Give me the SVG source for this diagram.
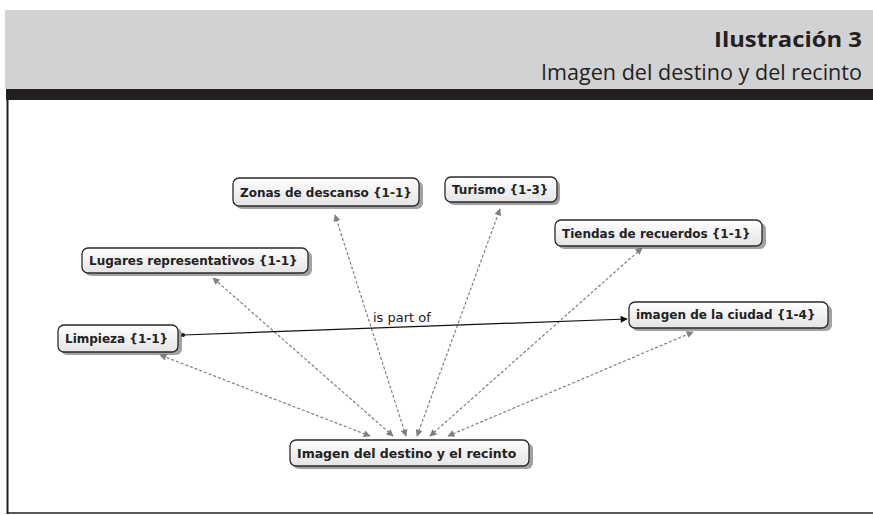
<svg xmlns="http://www.w3.org/2000/svg" width="873" height="515" viewBox="0 0 873 515">
<defs>
<style>
.box{fill:url(#g);stroke:#2a2a2a;stroke-width:1.3}
.sh{fill:#555;opacity:0.55}
.lbl{font-family:"DejaVu Sans",Verdana,sans-serif;font-size:12px;font-weight:bold;fill:#222}
.dash{stroke:#7f7f7f;stroke-width:1.2;stroke-dasharray:3 2;fill:none;marker-start:url(#ah);marker-end:url(#ah)}
.hd{font-family:"Open Sans","Liberation Sans",sans-serif;fill:#231f20}
</style>
<linearGradient id="g" x1="0" y1="0" x2="0" y2="1">
<stop offset="0" stop-color="#ffffff"/>
<stop offset="1" stop-color="#e4e4e4"/>
</linearGradient>
<marker id="ah" viewBox="0 0 10 10" refX="9" refY="5" markerWidth="9" markerHeight="7" orient="auto-start-reverse" markerUnits="userSpaceOnUse">
<path d="M0,0 L10,5 L0,10 z" fill="#7f7f7f"/>
</marker>
<marker id="ab" viewBox="0 0 10 10" refX="9" refY="5" markerWidth="10" markerHeight="7" orient="auto" markerUnits="userSpaceOnUse">
<path d="M0,0 L10,5 L0,10 z" fill="#111"/>
</marker>
<marker id="dot" viewBox="0 0 6 6" refX="3" refY="3" markerWidth="4" markerHeight="4" markerUnits="userSpaceOnUse">
<circle cx="3" cy="3" r="3" fill="#111"/>
</marker>
</defs>
<rect x="0" y="0" width="873" height="515" fill="#fff"/>
<g id="header">
<rect x="5" y="10" width="868" height="79" fill="#d1d2d4"/>
<rect x="6" y="89" width="867" height="11" fill="#231f20"/>
<line x1="7.5" y1="100" x2="7.5" y2="514" stroke="#231f20" stroke-width="2"/>
<line x1="7" y1="513" x2="873" y2="513" stroke="#231f20" stroke-width="1.5"/>
<text class="hd" x="862" y="47" text-anchor="end" font-size="21" font-weight="bold" textLength="148" lengthAdjust="spacingAndGlyphs">Ilustración 3</text>
<text class="hd" x="862" y="80" text-anchor="end" font-size="22" textLength="321" lengthAdjust="spacingAndGlyphs">Imagen del destino y del recinto</text>
</g>
<g id="connectors">
<line class="dash" x1="370" y1="436" x2="160" y2="355"/>
<line class="dash" x1="393" y1="436" x2="213" y2="278"/>
<line class="dash" x1="406" y1="436" x2="335" y2="215"/>
<line class="dash" x1="417" y1="436" x2="500" y2="209"/>
<line class="dash" x1="430" y1="436" x2="642" y2="248"/>
<line class="dash" x1="448" y1="436" x2="693" y2="332"/>
<line x1="183" y1="335" x2="627" y2="319" stroke="#111" stroke-width="1.2" marker-start="url(#dot)" marker-end="url(#ab)"/>
<text x="373" y="322" font-family="DejaVu Sans,Verdana,sans-serif" font-size="13" fill="#1a1a1a">is part of</text>
</g>
<g id="zonas">
<rect class="sh" x="236" y="181" width="187" height="28" rx="6"/>
<rect class="box" x="233" y="178" width="186" height="28" rx="6"/>
<text class="lbl" x="240" y="197">Zonas de descanso {1-1}</text>
</g>
<g id="turismo">
<rect class="sh" x="448" y="180" width="112" height="25" rx="6"/>
<rect class="box" x="445" y="177" width="112" height="25" rx="6"/>
<text class="lbl" x="452" y="194">Turismo {1-3}</text>
</g>
<g id="tiendas">
<rect class="sh" x="558" y="223" width="208" height="26" rx="6"/>
<rect class="box" x="555" y="220" width="207" height="26" rx="6"/>
<text class="lbl" x="562" y="238">Tiendas de recuerdos {1-1}</text>
</g>
<g id="lugares">
<rect class="sh" x="85" y="251" width="227" height="25" rx="6"/>
<rect class="box" x="82" y="248" width="226" height="25" rx="6"/>
<text class="lbl" x="89" y="265">Lugares representativos {1-1}</text>
</g>
<g id="limpieza">
<rect class="sh" x="61" y="328" width="121" height="27" rx="6"/>
<rect class="box" x="58" y="325" width="120" height="27" rx="6"/>
<text class="lbl" x="65" y="343">Limpieza {1-1}</text>
</g>
<g id="ciudad">
<rect class="sh" x="632" y="305" width="200" height="26" rx="6"/>
<rect class="box" x="629" y="302" width="199" height="26" rx="6"/>
<text class="lbl" x="636" y="319">imagen de la ciudad {1-4}</text>
</g>
<g id="destino">
<rect class="sh" x="293" y="443" width="240" height="26" rx="6"/>
<rect class="box" x="290" y="440" width="239" height="26" rx="6"/>
<text class="lbl" x="297" y="458" style="font-size:12.5px">Imagen del destino y el recinto</text>
</g>
</svg>
